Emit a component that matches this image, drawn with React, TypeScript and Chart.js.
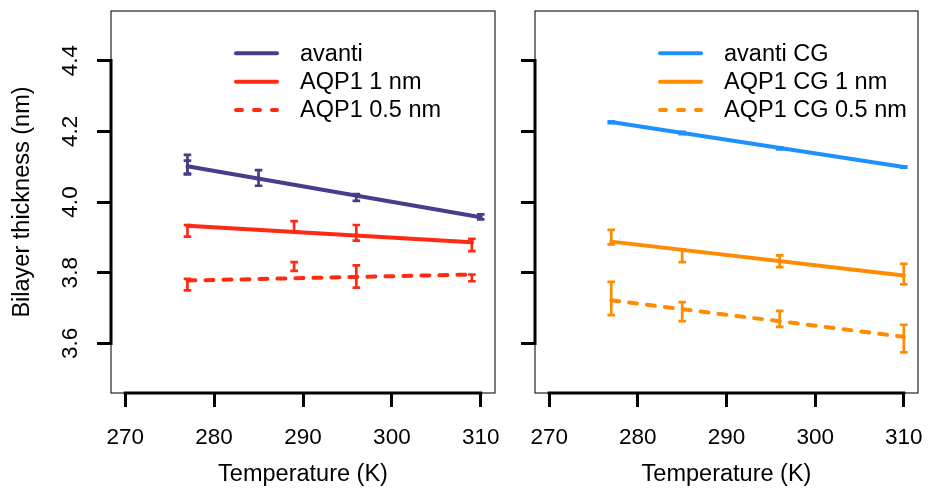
import React, { useEffect, useRef } from 'react';
import { Chart, registerables } from 'chart.js';

Chart.register(...registerables);

const FONT = '"Liberation Sans", Arial, Helvetica, sans-serif';

// Axes
const tempTicks = [270, 280, 290, 300, 310];
const thicknessTicks = [3.6, 3.8, 4.0, 4.2, 4.4];
const tempMin = 268.4;
const tempMax = 311.6;
const thickMin = 3.46;
const thickMax = 4.54;

// Left panel: atomistic
const avantiT = [277, 277, 285, 296, 310];
const avantiLo = [4.080, 4.078, 4.046, 4.003, 3.951];
const avantiHi = [4.133, 4.117, 4.090, 4.022, 3.965];
const avantiFitT = [277, 310];
const avantiFit = [4.101, 3.957];

const aqp1T = [277, 289, 296, 309];
const aqp1Lo = [3.902, 3.917, 3.891, 3.861];
const aqp1Hi = [3.935, 3.946, 3.935, 3.896];
const aqp1FitT = [277, 309];
const aqp1Fit = [3.933, 3.886];

const aqp05T = [277, 289, 296, 309];
const aqp05Lo = [3.750, 3.805, 3.758, 3.776];
const aqp05Hi = [3.783, 3.830, 3.821, 3.795];
const aqp05FitT = [277, 309];
const aqp05Fit = [3.778, 3.795];

// Right panel: coarse-grained
const cgT = [277, 285, 296, 310];
const cgFitT = [277, 310];
const avantiCgLo = [4.223, 4.192, 4.149, 4.097];
const avantiCgHi = [4.228, 4.198, 4.154, 4.101];
const avantiCgFit = [4.226, 4.099];
const aqp1CgLo = [3.880, 3.830, 3.816, 3.767];
const aqp1CgHi = [3.921, 3.866, 3.849, 3.825];
const aqp1CgFit = [3.888, 3.792];
const aqp05CgLo = [3.680, 3.663, 3.647, 3.575];
const aqp05CgHi = [3.774, 3.717, 3.692, 3.653];
const aqp05CgFit = [3.722, 3.619];

const PURPLE = '#483d8b';
const RED = '#ff2a12';
const BLUE = '#1e90ff';
const ORANGE = '#ff8c00';
const DASH = [8, 10];

type Series = {
  label: string;
  color: string;
  dash: number[];
  fitT: number[];
  fit: number[];
  errT: number[];
  lo: number[];
  hi: number[];
};

const leftSeries: Series[] = [
  { label: 'avanti', color: PURPLE, dash: [], fitT: avantiFitT, fit: avantiFit, errT: avantiT, lo: avantiLo, hi: avantiHi },
  { label: 'AQP1 1 nm', color: RED, dash: [], fitT: aqp1FitT, fit: aqp1Fit, errT: aqp1T, lo: aqp1Lo, hi: aqp1Hi },
  { label: 'AQP1 0.5 nm', color: RED, dash: DASH, fitT: aqp05FitT, fit: aqp05Fit, errT: aqp05T, lo: aqp05Lo, hi: aqp05Hi },
];

const rightSeries: Series[] = [
  { label: 'avanti CG', color: BLUE, dash: [], fitT: cgFitT, fit: avantiCgFit, errT: cgT, lo: avantiCgLo, hi: avantiCgHi },
  { label: 'AQP1 CG 1 nm', color: ORANGE, dash: [], fitT: cgFitT, fit: aqp1CgFit, errT: cgT, lo: aqp1CgLo, hi: aqp1CgHi },
  { label: 'AQP1 CG 0.5 nm', color: ORANGE, dash: DASH, fitT: cgFitT, fit: aqp05CgFit, errT: cgT, lo: aqp05CgLo, hi: aqp05CgHi },
];

function makePlugin(showYLabels: boolean) {
  return {
    id: 'panelDecor',
    afterDatasetsDraw(chart: any) {
      const { ctx, scales } = chart;
      const xs = scales.x;
      const ys = scales.y;
      ctx.save();
      chart.data.datasets.forEach((ds: any) => {
        const eb = ds.errorBars;
        if (!eb) return;
        ctx.strokeStyle = ds.borderColor;
        ctx.lineWidth = 2.7;
        ctx.setLineDash([]);
        ctx.lineCap = 'butt';
        eb.t.forEach((t: number, i: number) => {
          const x = xs.getPixelForValue(t);
          const y1 = ys.getPixelForValue(eb.lo[i]);
          const y2 = ys.getPixelForValue(eb.hi[i]);
          ctx.beginPath();
          ctx.moveTo(x, y1);
          ctx.lineTo(x, y2);
          ctx.moveTo(x - 3.8, y1);
          ctx.lineTo(x + 3.8, y1);
          ctx.moveTo(x - 3.8, y2);
          ctx.lineTo(x + 3.8, y2);
          ctx.stroke();
        });
      });
      ctx.restore();
    },
    afterDraw(chart: any) {
      const { ctx, chartArea: ca, scales } = chart;
      const xs = scales.x;
      const ys = scales.y;
      ctx.save();
      // box
      ctx.strokeStyle = '#333';
      ctx.lineWidth = 1.3;
      ctx.setLineDash([]);
      ctx.strokeRect(ca.left, ca.top, ca.right - ca.left, ca.bottom - ca.top);
      // axis lines
      ctx.strokeStyle = '#000';
      ctx.lineWidth = 3;
      ctx.lineCap = 'square';
      ctx.beginPath();
      ctx.moveTo(xs.getPixelForValue(tempTicks[0]), ca.bottom);
      ctx.lineTo(xs.getPixelForValue(tempTicks[tempTicks.length - 1]), ca.bottom);
      ctx.moveTo(ca.left, ys.getPixelForValue(thicknessTicks[0]));
      ctx.lineTo(ca.left, ys.getPixelForValue(thicknessTicks[thicknessTicks.length - 1]));
      ctx.stroke();
      // y tick labels (rotated, R style)
      if (showYLabels) {
        ctx.fillStyle = '#000';
        ctx.font = `22.5px ${FONT}`;
        ctx.textAlign = 'center';
        ctx.textBaseline = 'alphabetic';
        thicknessTicks.forEach((v) => {
          ctx.save();
          ctx.translate(ca.left - 34, ys.getPixelForValue(v));
          ctx.rotate(-Math.PI / 2);
          ctx.fillText(v.toFixed(1), 0, 0);
          ctx.restore();
        });
      }
      // legend
      const rows = [42.3, 70.7, 99];
      chart.data.datasets.forEach((ds: any, i: number) => {
        const y = ca.top + rows[i];
        ctx.strokeStyle = ds.borderColor;
        ctx.lineWidth = 4;
        ctx.lineCap = 'round';
        ctx.setLineDash(ds.borderDash && ds.borderDash.length ? [6, 12] : []);
        ctx.beginPath();
        ctx.moveTo(ca.left + 125, y);
        ctx.lineTo(ca.left + 166, y);
        ctx.stroke();
        ctx.setLineDash([]);
        ctx.fillStyle = '#000';
        ctx.font = `23.5px ${FONT}`;
        ctx.textAlign = 'left';
        ctx.textBaseline = 'middle';
        ctx.fillText(ds.label, ca.left + 189, y + 1);
      });
      ctx.restore();
    },
  };
}

type PanelProps = {
  series: Series[];
  width: number;
  yAxisWidth: number;
  padRight: number;
  showYLabels: boolean;
  left: number;
};

function Panel({ series, width, yAxisWidth, padRight, showYLabels, left }: PanelProps) {
  const ref = useRef<HTMLCanvasElement | null>(null);
  useEffect(() => {
    if (!ref.current) return;
    const gridOpts = {
      display: true,
      drawOnChartArea: false,
      drawTicks: true,
      tickLength: 14,
      tickWidth: 3,
      tickColor: '#000',
      color: '#000',
    };
    const chart = new Chart(ref.current, {
      type: 'line',
      data: {
        datasets: series.map((s) => ({
          label: s.label,
          data: s.fitT.map((t, i) => ({ x: t, y: s.fit[i] })),
          borderColor: s.color,
          backgroundColor: s.color,
          borderWidth: 4,
          borderDash: s.dash,
          borderCapStyle: 'round',
          pointRadius: 0,
          fill: false,
          tension: 0,
          errorBars: { t: s.errT, lo: s.lo, hi: s.hi },
        })) as any,
      },
      options: {
        responsive: false,
        maintainAspectRatio: false,
        animation: false,
        layout: { padding: { top: 11, right: padRight, left: 0, bottom: 0 } },
        plugins: { legend: { display: false }, tooltip: { enabled: false } },
        scales: {
          x: {
            type: 'linear',
            min: tempMin,
            max: tempMax,
            afterBuildTicks: (s: any) => {
              s.ticks = tempTicks.map((v) => ({ value: v }));
            },
            afterFit: (s: any) => {
              s.height = 96;
              s.paddingLeft = 0;
              s.paddingRight = 0;
              s.paddingTop = 0;
              s.paddingBottom = 0;
            },
            grid: gridOpts,
            border: { display: false },
            ticks: {
              padding: 17,
              color: '#000',
              font: { family: FONT, size: 22.5 },
              maxRotation: 0,
              minRotation: 0,
              autoSkip: false,
            },
            title: {
              display: true,
              text: 'Temperature (K)',
              color: '#000',
              font: { family: FONT, size: 23.5 },
              padding: { top: 0, bottom: 0 },
            },
          },
          y: {
            type: 'linear',
            min: thickMin,
            max: thickMax,
            afterBuildTicks: (s: any) => {
              s.ticks = thicknessTicks.map((v) => ({ value: v }));
            },
            afterFit: (s: any) => {
              s.width = yAxisWidth;
              s.paddingTop = 0;
              s.paddingBottom = 0;
              s.paddingLeft = 0;
              s.paddingRight = 0;
            },
            grid: gridOpts,
            border: { display: false },
            ticks: { display: false },
            title: {
              display: showYLabels,
              text: 'Bilayer thickness (nm)',
              color: '#000',
              font: { family: FONT, size: 23.5 },
              padding: { top: 8, bottom: 0 },
            },
          },
        },
      } as any,
      plugins: [makePlugin(showYLabels)],
    });
    return () => chart.destroy();
  }, []);
  return (
    <canvas
      ref={ref}
      width={width}
      height={489}
      style={{ position: 'absolute', left, top: 0, width, height: 489, display: 'block' }}
    />
  );
}

export default function App() {
  return (
    <div style={{ position: 'absolute', left: 0, top: 0, width: 928, height: 489, background: '#fff' }}>
      <Panel series={leftSeries} width={500} yAxisWidth={111} padRight={5} showYLabels={true} left={0} />
      <Panel series={rightSeries} width={428} yAxisWidth={35} padRight={10} showYLabels={false} left={500} />
    </div>
  );
}
